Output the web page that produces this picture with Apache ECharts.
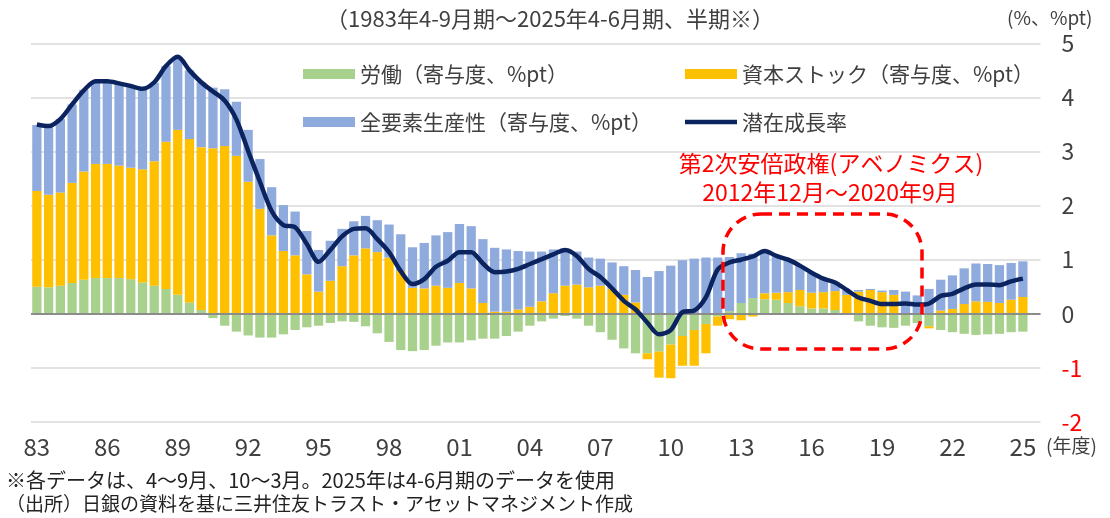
<!DOCTYPE html>
<html>
<head>
<meta charset="utf-8">
<script src="https://cdn.jsdelivr.net/npm/echarts@6/dist/echarts.min.js"></script>
<style>
html,body{margin:0;padding:0;background:#fff;}
#chart{width:1110px;height:518px;}
</style>
</head>
<body>
<div id="chart"></div>
<script>
// Half-year periods: 1983 Apr-Sep ... 2025 (last slot empty)
const startYear = 1983;
const endYear = 2025;
const periods = [];
for (let y = startYear; y <= endYear; y++) {
  periods.push(y + '年4-9月', y + '年10-3月');
}
const yearTicks = ['83','86','89','92','95','98','01','04','07','10','13','16','19','22','25'];

const labor = [0.50,0.49,0.52,0.57,0.63,0.66,0.66,0.66,0.64,0.58,
  0.52,0.46,0.35,0.21,0.07,-0.08,-0.22,-0.33,-0.40,-0.44,
  -0.44,-0.38,-0.30,-0.25,-0.22,-0.17,-0.14,-0.15,-0.23,-0.36,
  -0.52,-0.67,-0.69,-0.67,-0.59,-0.53,-0.53,-0.49,-0.46,-0.46,
  -0.41,-0.33,-0.22,-0.14,-0.09,-0.04,-0.09,-0.22,-0.34,-0.48,
  -0.64,-0.73,-0.73,-0.70,-0.57,-0.41,-0.30,-0.19,-0.05,0.05,
  0.20,0.29,0.27,0.26,0.20,0.14,0.10,0.10,0.07,0.00,
  -0.14,-0.22,-0.25,-0.26,-0.22,-0.17,-0.23,-0.30,-0.34,-0.37,
  -0.39,-0.38,-0.37,-0.34,-0.33,null];

const capital = [1.77,1.71,1.72,1.85,2.00,2.11,2.11,2.08,2.06,2.09,
  2.30,2.72,3.05,3.02,3.01,3.06,3.10,2.92,2.44,1.94,
  1.45,1.16,1.08,0.73,0.41,0.61,0.88,1.08,1.21,1.14,
  1.04,0.79,0.48,0.47,0.52,0.48,0.57,0.47,0.20,0.04,
  0.04,0.08,0.13,0.23,0.38,0.52,0.54,0.49,0.52,0.46,
  0.35,0.21,-0.11,-0.48,-0.62,-0.55,-0.66,-0.54,-0.17,-0.10,
  -0.12,-0.05,0.11,0.13,0.20,0.30,0.29,0.30,0.35,0.35,
  0.41,0.44,0.40,0.35,0.00,0.00,-0.04,0.06,0.09,0.18,
  0.23,0.22,0.20,0.26,0.31,null];

const tfp = [1.22,1.25,1.36,1.45,1.51,1.52,1.52,1.51,1.50,1.48,
  1.45,1.40,1.35,1.27,1.20,1.12,1.05,1.00,0.96,0.92,
  0.89,0.85,0.81,0.80,0.77,0.74,0.69,0.63,0.60,0.59,
  0.61,0.68,0.75,0.84,0.93,1.03,1.09,1.15,1.18,1.18,
  1.15,1.08,1.02,0.92,0.81,0.69,0.61,0.55,0.50,0.49,
  0.53,0.60,0.68,0.79,0.89,0.99,1.02,1.04,1.04,1.00,
  0.92,0.82,0.78,0.68,0.60,0.45,0.37,0.25,0.16,0.09,
  0.03,0.02,0.03,0.09,0.41,0.34,0.46,0.57,0.62,0.66,
  0.70,0.70,0.70,0.68,0.66,null];

const potential = [3.50,3.47,3.60,3.87,4.13,4.30,4.30,4.26,4.21,4.16,
  4.28,4.58,4.75,4.50,4.28,4.11,3.94,3.59,3.01,2.44,
  1.90,1.64,1.60,1.29,0.96,1.18,1.43,1.57,1.58,1.38,
  1.14,0.79,0.55,0.64,0.87,0.98,1.14,1.14,0.93,0.77,
  0.78,0.83,0.92,1.01,1.10,1.18,1.07,0.83,0.68,0.47,
  0.24,0.08,-0.16,-0.38,-0.30,0.03,0.06,0.31,0.82,0.95,
  1.00,1.06,1.16,1.07,1.00,0.89,0.76,0.65,0.58,0.44,
  0.30,0.24,0.18,0.18,0.19,0.17,0.19,0.33,0.37,0.47,
  0.54,0.54,0.53,0.60,0.65,null];

const names = ['労働（寄与度、%pt）','資本ストック（寄与度、%pt）','全要素生産性（寄与度、%pt）','潜在成長率'];
const FONT = "'Noto Sans CJK JP', 'Noto Sans', sans-serif";
const TXT = '#404040';
const NAVY = '#0B2460';

const chart = echarts.init(document.getElementById('chart'), null, {renderer: 'canvas'});
const legendCommon = {
  orient: 'vertical', itemWidth: 52, itemHeight: 10, itemGap: 24,
  selectedMode: false,
  textStyle: {fontFamily: FONT, fontSize: 21, color: TXT, lineHeight: 24}
};
chart.setOption({
  animation: false,
  backgroundColor: '#fff',
  textStyle: {fontFamily: FONT},
  grid: {left: 31, right: 69.5, top: 43.3, bottom: 96, containLabel: false},
  legend: [
    Object.assign({left: 298, top: 57, data: [{name: names[0], icon: 'rect'}, {name: names[2], icon: 'rect'}]}, legendCommon),
    Object.assign({left: 680, top: 57, data: [{name: names[1], icon: 'rect'}]}, legendCommon),
    Object.assign({}, legendCommon, {left: 680, top: 105, itemHeight: 4.5, data: [{name: names[3], icon: 'rect'}]})
  ],
  xAxis: {
    type: 'category', data: periods, boundaryGap: true,
    axisLine: {show: false}, axisTick: {show: false},
    axisLabel: {
      interval: 5, margin: 13, fontSize: 24, color: TXT, fontFamily: FONT,
      formatter: function (v, i) { return yearTicks[Math.round(i / 6)] || ''; }
    },
    splitLine: {show: false}
  },
  yAxis: {
    type: 'value', position: 'right', min: -2, max: 5, interval: 1,
    axisLine: {show: false}, axisTick: {show: false},
    axisLabel: {
      margin: 21, fontSize: 23, fontFamily: FONT,
      color: function (v) { return Number(v) < 0 ? '#FF0000' : TXT; }
    },
    splitLine: {lineStyle: {color: '#d9d9d9', width: 1.5}}
  },
  series: [
    {name: names[0], type: 'bar', stack: 'c', data: labor, barCategoryGap: '21%',
     itemStyle: {color: '#A9D18E'},
     markLine: {silent: true, symbol: 'none', label: {show: false},
       lineStyle: {color: '#8c8c8c', width: 2, type: 'solid'}, data: [{yAxis: 0}]}},
    {name: names[1], type: 'bar', stack: 'c', data: capital, itemStyle: {color: '#FFC000'}},
    {name: names[2], type: 'bar', stack: 'c', data: tfp, itemStyle: {color: '#8FAADC'}},
    {name: names[3], type: 'line', data: potential, symbol: 'none', showSymbol: false, smooth: 0.3, z: 5,
     lineStyle: {color: NAVY, width: 4.5}, itemStyle: {color: NAVY}}
  ],
  graphic: [
    {type: 'text', x: 550, y: 19, style: {text: '（1983年4-9月期～2025年4-6月期、半期※）', fill: TXT, font: '22px ' + FONT, textAlign: 'center', textVerticalAlign: 'middle'}},
    {type: 'text', x: 1007, y: 8, style: {text: '(%、%pt)', fill: TXT, font: '19px ' + FONT}},
    {type: 'text', x: 1046, y: 436, style: {text: '(年度)', fill: TXT, font: '19px ' + FONT}},
    {type: 'text', x: 6, y: 470, style: {text: '※各データは、4～9月、10～3月。2025年は4-6月期のデータを使用', fill: '#222', font: '20px ' + FONT}},
    {type: 'text', x: 6, y: 494, style: {text: '（出所）日銀の資料を基に三井住友トラスト・アセットマネジメント作成', fill: '#222', font: '19px ' + FONT}},
    {type: 'text', x: 831, y: 163, style: {text: '第2次安倍政権(アベノミクス)', fill: '#FF0000', font: '23px ' + FONT, textAlign: 'center', textVerticalAlign: 'middle'}},
    {type: 'text', x: 830, y: 192, style: {text: '2012年12月～2020年9月', fill: '#FF0000', font: '23px ' + FONT, textAlign: 'center', textVerticalAlign: 'middle'}},
    {type: 'rect', shape: {x: 723, y: 214, width: 199, height: 135, r: 38}, z: 10,
     style: {fill: 'none', stroke: '#FF0000', lineWidth: 3.5, lineDash: [11, 7]}}
  ]
});
</script>
</body>
</html>
